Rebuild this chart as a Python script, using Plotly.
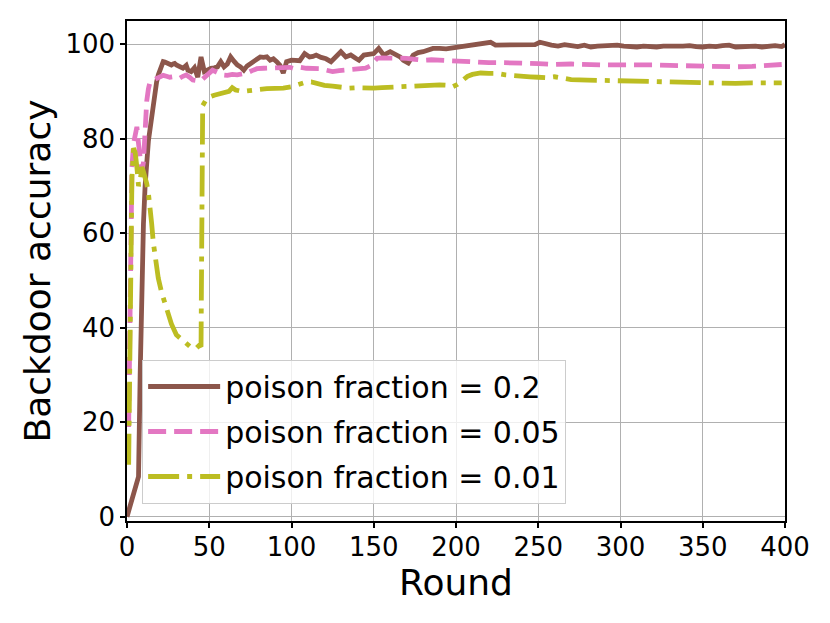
import plotly.graph_objects as go

# ---- data ----
rounds_02 = [0, 3, 6, 7, 8, 9, 10, 11, 12, 13, 14, 15, 16, 17, 18, 19, 20, 21, 22, 23, 24, 25, 26, 27, 28, 29, 30,
             32, 34, 36, 37, 39, 41, 43, 45, 47, 49, 51, 53, 55, 57, 59, 61, 63, 65, 67, 69, 71, 73, 75, 77, 79,
             81, 83, 85, 87, 89, 91, 93, 95, 97, 100, 103, 105, 108, 111, 113, 115, 118, 121, 124, 127, 130, 133,
             136, 139, 141, 144, 147, 150, 153, 156, 160, 163, 166, 168, 171, 174, 177, 180, 183, 186, 190, 194,
             198, 202, 206, 210, 214, 218, 221, 224, 228, 232, 236, 240, 244, 248, 251, 254, 258, 262, 266, 270,
             274, 278, 282, 286, 290, 294, 298, 302, 306, 310, 314, 318, 322, 326, 330, 334, 338, 342, 346, 350,
             354, 358, 362, 366, 370, 374, 378, 382, 386, 390, 394, 398, 400]
acc_02 = [0, 4, 7.8, 8.5, 30, 48, 62, 70, 76, 79.5, 82, 85, 88, 90.5, 92, 93.5, 94.5, 95.6, 96.3, 96.2, 96, 95.8,
          95.7, 95.6, 95.8, 95.9, 95.6, 95.2, 94.9, 95.5, 94.5, 94.2, 95, 93, 97.3, 94.2, 94.6, 94.9, 95.0, 95.2,
          96.3, 95.2, 95.8, 97.3, 96.4, 95.6, 95.2, 94.5, 95.4, 95.9, 96.3, 96.8, 97.3, 97.2, 97.3, 96.6, 96.9,
          96.3, 95.5, 93.9, 96.3, 96.6, 96.6, 96.5, 98, 97.3, 97.4, 97.7, 97.2, 96.9, 96.3, 97.3, 98.4, 97.3,
          97.7, 97.0, 96.6, 97.7, 97.9, 98, 99.1, 97.7, 98.4, 97.9, 97.3, 96.6, 96.0, 97.7, 98.2, 98.4, 98.8,
          99.1, 99.1, 99.0, 99.2, 99.4, 99.5, 99.6, 99.8, 100.0, 100.4, 99.8, 99.8, 99.9, 99.7, 99.8, 99.7, 99.9,
          100.4, 100.1, 99.8, 99.6, 99.9, 99.7, 99.5, 99.8, 99.4, 99.6, 99.7, 99.6, 99.8, 99.6, 99.5, 99.4, 99.6,
          99.5, 99.4, 99.6, 99.7, 99.6, 99.6, 99.7, 99.5, 99.4, 99.6, 99.5, 99.7, 99.8, 99.4, 99.5, 99.7, 99.6,
          99.4, 99.5, 99.7, 99.5, 99.9]

rounds_005 = [1, 2, 3, 4, 5, 6, 7, 8, 9, 10, 11, 12, 13, 14, 16, 18, 20, 22, 24, 26, 28, 30, 32, 34, 36, 38, 40,
              42, 44, 46, 48, 50, 52, 55, 58, 61, 64, 67, 70, 73, 76, 79, 83, 87, 91, 95, 99, 101, 105, 109, 113,
              117, 121, 125, 129, 133, 137, 141, 145, 148, 150, 152, 155, 160, 165, 170, 175, 180, 185, 190, 195,
              200, 205, 210, 215, 220, 225, 230, 240, 250, 260, 270, 280, 290, 300, 310, 320, 330, 340, 350, 360,
              370, 380, 390, 398]
acc_005 = [19, 48, 74, 79, 81, 82.5, 79, 75, 73, 75, 82, 88, 90.5, 92, 92.4, 92.8, 93.1, 93.4, 93.2, 93.0, 93.1,
           93.0, 92.8, 93.2, 93.5, 93.0, 92.4, 92.3, 92.2, 92.6, 93.3, 93.8, 94.5, 94.0, 93.5, 93.4, 93.6, 93.5,
           93.7, 93.9, 94.4, 94.8, 94.9, 95.0, 95.1, 95.2, 95.1, 94.9, 95.1, 94.9, 94.9, 94.8, 94.5, 94.2, 94.4,
           94.5, 94.6, 94.9, 94.9, 95.4, 96.2, 97.0, 97.1, 97.1, 97.0, 97.0, 96.8, 96.6, 96.7, 96.6, 96.4, 96.3,
           96.4, 96.3, 96.2, 96.1, 96.1, 96.0, 96.0, 95.9, 95.7, 95.8, 95.6, 95.6, 95.6, 95.7, 95.6, 95.5, 95.4,
           95.3, 95.2, 95.2, 95.3, 95.6, 95.7]

rounds_001 = [1, 2, 3, 4, 5, 6, 7, 8, 9, 10, 11, 12, 13, 14, 15, 16, 17, 18, 19, 21, 23, 25, 27, 30, 33, 36, 39,
              42, 44, 45, 46, 48, 50, 53, 56, 59, 62, 64, 66, 70, 75, 80, 85, 90, 95, 100, 104, 108, 112, 116, 120,
              125, 130, 135, 140, 145, 150, 155, 160, 165, 170, 175, 180, 185, 190, 195, 198, 201, 204, 207, 210,
              215, 220, 225, 230, 235, 240, 245, 250, 255, 260, 265, 270, 280, 290, 300, 310, 320, 330, 340, 350,
              360, 370, 380, 390, 398]
acc_001 = [11, 45, 72, 78, 77, 74, 70, 71, 74, 73, 72, 70.5, 68.5, 66, 62, 58, 55, 52.5, 50.5, 47.5, 45, 42.5,
           40.8, 38.5, 37.5, 36.6, 35.8, 35.6, 36.3, 36.0, 87, 88.2, 88.8, 89.2, 89.5, 89.6, 90.0, 90.8, 90.3,
           90.0, 90.3, 90.4, 90.6, 90.6, 90.7, 91.0, 91.5, 91.9, 92.0, 91.6, 91.3, 91.1, 90.9, 90.7, 90.8, 90.7,
           90.7, 90.8, 90.9, 91.0, 91.0, 91.1, 91.2, 91.4, 91.4, 91.3, 91.0, 91.5, 92.4, 93.2, 93.6, 93.9, 93.8,
           93.8, 93.5, 93.3, 93.2, 93.1, 93.0, 92.9, 93.1, 92.7, 92.5, 92.4, 92.3, 92.2, 92.3, 92.2, 92.0, 91.9,
           91.9, 91.8, 91.7, 91.8, 91.7, 91.8]

labels = ["poison fraction = 0.2", "poison fraction = 0.05", "poison fraction = 0.01"]
x_ticks = [0, 50, 100, 150, 200, 250, 300, 350, 400]
y_ticks = [0, 20, 40, 60, 80, 100]

FONT = "DejaVu Sans"

fig = go.Figure()
fig.add_trace(go.Scatter(x=rounds_02, y=acc_02, mode="lines", name=labels[0], legendgroup="a",
                         line=dict(color="#8c564b", width=4.8)))
fig.add_trace(go.Scatter(x=rounds_005, y=acc_005, mode="lines", name=labels[1], legendgroup="b",
                         line=dict(color="#e377c2", width=4.8, dash="18px,8px")))
fig.add_trace(go.Scatter(x=rounds_001, y=acc_001, mode="lines", name=labels[2], legendgroup="c",
                         line=dict(color="#bcbd22", width=4.8, dash="31px,8px,5px,8px")))

axis_common = dict(showline=True, mirror=True, linecolor="black", linewidth=1.5,
                   ticks="outside", ticklen=5, tickwidth=1.5, tickcolor="black",
                   showgrid=True, gridcolor="#b0b0b0", gridwidth=1, zeroline=False,
                   tickfont=dict(family=FONT, size=26, color="black"))

fig.update_layout(
    width=830, height=623,
    margin=dict(l=119, r=53, t=11, b=110),
    paper_bgcolor="white", plot_bgcolor="white",
    font=dict(family=FONT, color="black"),
    xaxis=dict(range=[0, 400], tickvals=x_ticks, ticklabelstandoff=-3,
               title=dict(text="Round", font=dict(family=FONT, size=36), standoff=0),
               **axis_common),
    yaxis=dict(range=[-0.9, 104.9], tickvals=y_ticks,
               title=dict(text="Backdoor accuracy", font=dict(family=FONT, size=36), standoff=4),
               **axis_common),
    legend=dict(x=0.023, y=0.323, xanchor="left", yanchor="top",
                bgcolor="rgba(255,255,255,0.8)", bordercolor="#cccccc", borderwidth=1,
                font=dict(family=FONT, size=30, color="black"),
                tracegroupgap=3, itemwidth=72),
    showlegend=True,
)

fig.write_html("out.html")
